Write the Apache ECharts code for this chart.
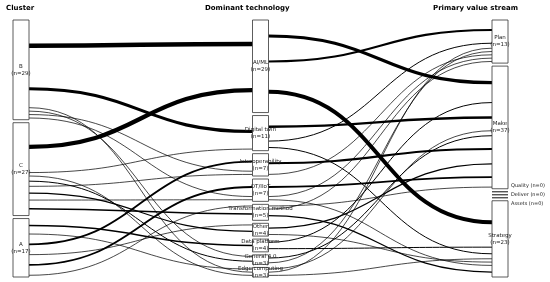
<!DOCTYPE html>
<html><head><meta charset="utf-8">
<script src="https://cdn.jsdelivr.net/npm/echarts@6/dist/echarts.min.js"></script>
<style>html,body{margin:0;padding:0;background:#fff}#c{width:550px;height:282px}</style>
</head><body><div id="c"></div>
<script>
// ---------- data ----------
const columnTitles = ['Cluster', 'Dominant technology', 'Primary value stream'];
const clusters = ['B', 'C', 'A'];
const technologies = ['AI/ML', 'Digital twin', 'Interoperability', 'OT/IIoT', 'Transformation method', 'Other', 'Data platform', 'General 4.0', 'Edge computing'];
const valueStreams = ['Plan', 'Make', 'Quality', 'Deliver', 'Assets', 'Strategy'];

// cluster -> technology (listed in stacking order at the source node)
const clusterTechLinks = [
  ['B', 'AI/ML', 15], ['B', 'Digital twin', 10], ['B', 'Edge computing', 1], ['B', 'General 4.0', 1], ['B', 'Interoperability', 1], ['B', 'OT/IIoT', 1],
  ['C', 'AI/ML', 14], ['C', 'Digital twin', 1], ['C', 'Edge computing', 1], ['C', 'General 4.0', 2], ['C', 'Interoperability', 1], ['C', 'Other', 3], ['C', 'OT/IIoT', 1], ['C', 'Transformation method', 4],
  ['A', 'Data platform', 4], ['A', 'Edge computing', 1], ['A', 'Interoperability', 5], ['A', 'Other', 1], ['A', 'OT/IIoT', 5], ['A', 'Transformation method', 1]
];
// technology -> value stream (listed in stacking order at the source node)
const techValueLinks = [
  ['AI/ML', 'Make', 10], ['AI/ML', 'Plan', 6], ['AI/ML', 'Strategy', 13],
  ['Digital twin', 'Make', 7], ['Digital twin', 'Plan', 2], ['Digital twin', 'Strategy', 2],
  ['Interoperability', 'Make', 6], ['Interoperability', 'Plan', 1],
  ['OT/IIoT', 'Make', 5], ['OT/IIoT', 'Plan', 1], ['OT/IIoT', 'Strategy', 1],
  ['Transformation method', 'Make', 1], ['Transformation method', 'Plan', 1], ['Transformation method', 'Strategy', 3],
  ['Other', 'Make', 3], ['Other', 'Strategy', 1],
  ['Data platform', 'Make', 2], ['Data platform', 'Strategy', 2],
  ['General 4.0', 'Make', 2], ['General 4.0', 'Plan', 1],
  ['Edge computing', 'Make', 1], ['Edge computing', 'Plan', 1], ['Edge computing', 'Strategy', 1]
];
// stacking order of incoming links at the target nodes
const clusterRankAtTarget = ['A', 'B', 'C'];
const techRankAtTarget = ['AI/ML', 'Data platform', 'Digital twin', 'Edge computing', 'General 4.0', 'Interoperability', 'Other', 'OT/IIoT', 'Transformation method'];

// ---------- layout (data units: column index on x, 0..1 on y) ----------
const GAP = 3 / 257;
function sumBy(links, idx, name) { return links.filter(l => l[idx] === name).reduce((a, l) => a + l[2], 0); }
const columns = [
  clusters.map(n => [n, sumBy(clusterTechLinks, 0, n)]),
  technologies.map(n => [n, sumBy(clusterTechLinks, 1, n)]),
  valueStreams.map(n => [n, sumBy(techValueLinks, 1, n)])
];
const nodeInfo = {};
const nodeData = [];
columns.forEach((col, ci) => {
  const total = col.reduce((a, c) => a + c[1], 0);
  const scale = (1 - GAP * (col.length - 1)) / total;
  let y = 0;
  const zeros = col.filter(c => c[1] === 0).map(c => c[0]);
  col.forEach(([name, cnt]) => {
    const h = cnt * scale;
    nodeInfo[ci + ':' + name] = { y0: y, y1: y + h, scale, outCur: y, inCur: y };
    const zi = zeros.indexOf(name);
    nodeData.push([ci, y, y + h, cnt, name, zi < 0 ? 0 : zi - (zeros.length - 1) / 2]);
    y += h + GAP;
  });
});
const linkData = [];
function placeLinks(links, c0, c1, rank) {
  const pos = links.map(l => {
    const s = nodeInfo[c0 + ':' + l[0]];
    const ys = s.outCur + l[2] * s.scale / 2; s.outCur += l[2] * s.scale;
    return ys;
  });
  const order = links.map((l, i) => i).sort((a, b) => rank.indexOf(links[a][0]) - rank.indexOf(links[b][0]) || a - b);
  const tpos = [];
  order.forEach(i => {
    const l = links[i]; const t = nodeInfo[c1 + ':' + l[1]];
    tpos[i] = t.inCur + l[2] * t.scale / 2; t.inCur += l[2] * t.scale;
  });
  links.forEach((l, i) => linkData.push([c0, pos[i], c1, tpos[i], l[2]]));
}
placeLinks(clusterTechLinks, 0, 1, clusterRankAtTarget);
placeLinks(techValueLinks, 1, 2, techRankAtTarget);

const HALF = 8;
const FONT = 'DejaVu Sans';
const chart = echarts.init(document.getElementById('c'));
chart.setOption({
  animation: false,
  backgroundColor: '#fff',
  title: columnTitles.map((t, i) => ({
    text: t, left: [6, 205, 433][i], top: 5, padding: 0,
    textStyle: { fontSize: 7, fontWeight: 'bold', fontFamily: FONT, color: '#000' }
  })),
  grid: { left: 21, right: 50, top: 20, bottom: 5 },
  xAxis: { type: 'value', min: 0, max: 2, show: false },
  yAxis: { type: 'value', min: 0, max: 1, inverse: true, show: false },
  series: [
    {
      type: 'custom', z: 2, data: linkData,
      renderItem: (params, api) => {
        const p0 = api.coord([api.value(0), api.value(1)]);
        const p1 = api.coord([api.value(2), api.value(3)]);
        const x0 = p0[0] + HALF, x1 = p1[0] - HALF, mx = (x0 + x1) / 2;
        return {
          type: 'bezierCurve',
          shape: { x1: x0, y1: p0[1], x2: x1, y2: p1[1], cpx1: mx, cpy1: p0[1], cpx2: mx, cpy2: p1[1] },
          style: { stroke: '#000', fill: null, lineWidth: 0.45 + 0.27 * api.value(4) }
        };
      }
    },
    {
      type: 'custom', z: 3, data: nodeData,
      renderItem: (params, api) => {
        const a = api.coord([api.value(0), api.value(1)]);
        const b = api.coord([api.value(0), api.value(2)]);
        const cnt = api.value(3);
        const name = nodeData[params.dataIndex][4];
        const zoff = nodeData[params.dataIndex][5];
        const children = [{
          type: 'rect', shape: { x: a[0] - HALF, y: a[1], width: HALF * 2, height: b[1] - a[1] },
          style: { fill: '#fff', stroke: '#333', lineWidth: 0.8 }
        }];
        if (cnt > 0) {
          children.push({
            type: 'text', z2: 5,
            style: { text: name + '\n(n=' + cnt + ')', x: a[0], y: (a[1] + b[1]) / 2, align: 'center', verticalAlign: 'middle',
              fill: '#222', fontSize: 5.5, fontFamily: FONT, lineHeight: 7 }
          });
        } else {
          children.push({
            type: 'text', z2: 5,
            style: { text: name + ' (n=0)', x: a[0] + HALF + 3, y: a[1] + zoff * 6, align: 'left', verticalAlign: 'middle',
              fill: '#222', fontSize: 5, fontFamily: FONT }
          });
        }
        return { type: 'group', children };
      }
    }
  ]
});
</script></body></html>
